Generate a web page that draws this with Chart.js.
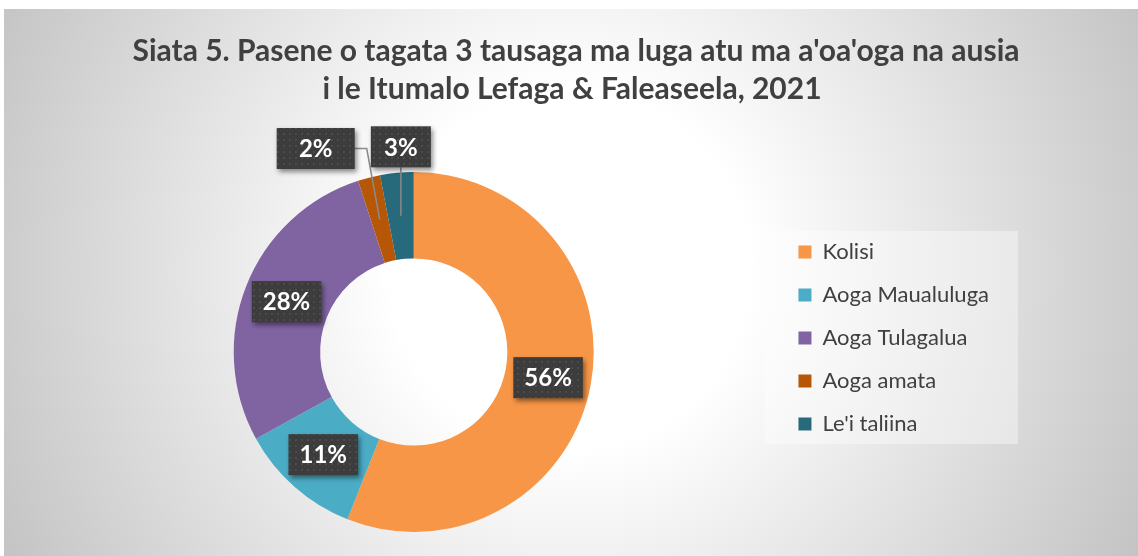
<!DOCTYPE html>
<html>
<head>
<meta charset="utf-8">
<script src="https://cdn.jsdelivr.net/npm/chart.js@4"></script>
<style>
  body { margin: 0; background: #fff; }
  canvas { display: block; }
</style>
</head>
<body>
<canvas id="chart" width="1138" height="556"></canvas>
<script>
// Data
const titleLines = ["Siata 5. Pasene o tagata 3 tausaga ma luga atu ma a'oa'oga na ausia", "i le Itumalo Lefaga & Faleaseela, 2021"];
const categories = ['Kolisi', 'Aoga Maualuluga', 'Aoga Tulagalua', 'Aoga amata', "Le'i taliina"];
const percents = [56, 11, 28, 2, 3];
const colors = ['#F79646', '#4BACC6', '#8064A2', '#B65708', '#276A7C'];

const FONT = 'Lato, "Open Sans", sans-serif';

// dotted dark fill for the data labels
function makePattern(ctx) {
    const c = document.createElement('canvas');
    c.width = 6; c.height = 6;
    const p = c.getContext('2d');
    p.fillStyle = '#3c3c3c';
    p.fillRect(0, 0, 6, 6);
    p.fillStyle = '#4c4c4c';
    p.fillRect(1, 1, 2, 2);
    p.fillStyle = '#444';
    p.fillRect(4, 4, 1, 1);
    return ctx.createPattern(c, 'repeat');
}

const backdrop = {
    id: 'backdrop',
    beforeDraw(chart) {
        const ctx = chart.ctx;
        const w = chart.width, h = chart.height;
        ctx.save();
        ctx.fillStyle = '#fff';
        ctx.fillRect(0, 0, w, h);
        const g = ctx.createRadialGradient(570, 270, 0, 570, 270, 640);
        g.addColorStop(0, '#ffffff');
        g.addColorStop(0.28, '#ffffff');
        g.addColorStop(1, '#c3c3c3');
        ctx.fillStyle = g;
        ctx.fillRect(4, 9, w - 4, h - 9);

        // legend panel
        const lg = chart.legend;
        const mid = (lg.top + lg.bottom) / 2;
        ctx.fillStyle = 'rgba(255,255,255,0.38)';
        ctx.fillRect(lg.left - 13, mid - 107, lg.right + 19 - (lg.left - 13), 213);

        // title
        ctx.fillStyle = '#404040';
        ctx.font = 'bold 30px ' + FONT;
        ctx.textAlign = 'center';
        ctx.textBaseline = 'alphabetic';
        ctx.fillText(titleLines[0], 576, 61);
        ctx.fillText(titleLines[1], 572, 99);
        ctx.restore();
    }
};

// legend sits a bit above the ring centre
const legendShift = {
    id: 'legendShift',
    afterLayout(chart) {
        chart.legend.top -= 14;
        chart.legend.bottom -= 14;
    }
};

const dataLabels = {
    id: 'dataLabels',
    afterDatasetsDraw(chart, args, opts) {
        const ctx = chart.ctx;
        const meta = chart.getDatasetMeta(0);
        const data = chart.data.datasets[0].data;
        const total = data.reduce((a, b) => a + b, 0);
        const fill = makePattern(ctx);
        meta.data.forEach((arc, i) => {
            const pt = arc.tooltipPosition();
            const text = Math.round(data[i] / total * 100) + '%';
            ctx.save();
            ctx.font = 'bold 24px ' + FONT;
            const tw = ctx.measureText(text).width;
            const off = opts.offsets[i];
            const bw = off ? off.w : tw + 22;
            const bh = 41;
            const cx = pt.x + (off ? off.dx : 0);
            const cy = pt.y + (off ? off.dy : 0);
            const x0 = cx - bw / 2, y0 = cy - bh / 2;

            // leader line
            if (off) {
                ctx.strokeStyle = '#8a8a8a';
                ctx.lineWidth = 1.5;
                ctx.beginPath();
                if (off.side === 'right') {
                    ctx.moveTo(x0 + bw, cy);
                    ctx.lineTo(x0 + bw + 12, cy);
                } else {
                    ctx.moveTo(cx, y0 + bh);
                }
                ctx.lineTo(pt.x, pt.y);
                ctx.stroke();
            }

            ctx.shadowColor = 'rgba(0,0,0,0.45)';
            ctx.shadowBlur = 5;
            ctx.shadowOffsetX = 2;
            ctx.shadowOffsetY = 3;
            ctx.fillStyle = fill;
            ctx.fillRect(x0, y0, bw, bh);
            ctx.shadowColor = 'transparent';

            ctx.fillStyle = '#ffffff';
            ctx.textAlign = 'center';
            ctx.textBaseline = 'middle';
            ctx.fillText(text, cx, cy + 1);
            ctx.restore();
        });
    }
};

new Chart(document.getElementById('chart'), {
    type: 'doughnut',
    data: {
        labels: categories,
        datasets: [{
            data: percents,
            backgroundColor: colors,
            borderWidth: 0,
            hoverOffset: 0
        }]
    },
    options: {
        responsive: false,
        animation: false,
        cutout: '52%',
        layout: { padding: { top: 172, bottom: 24, left: 50, right: 139 } },
        plugins: {
            title: { display: false },
            tooltip: { enabled: false },
            legend: {
                position: 'right',
                labels: {
                    boxWidth: 13,
                    boxHeight: 13,
                    padding: 21,
                    color: '#404040',
                    font: { family: FONT, size: 22 }
                }
            },
            dataLabels: {
                offsets: {
                    3: { dx: -64, dy: -71, w: 78, side: 'right' },
                    4: { dx: 0, dy: -69, w: 60, side: 'bottom' }
                }
            }
        }
    },
    plugins: [backdrop, legendShift, dataLabels]
});
</script>
</body>
</html>
